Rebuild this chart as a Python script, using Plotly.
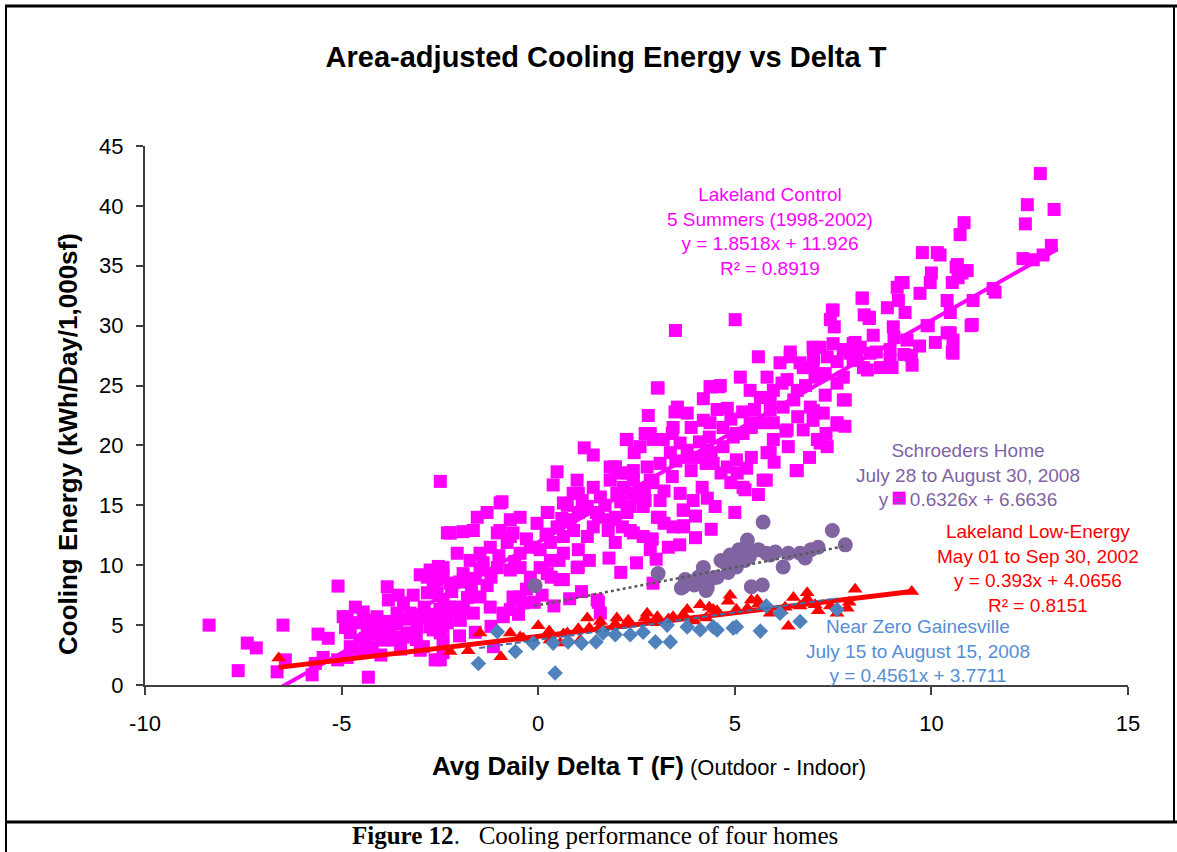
import numpy as np
import plotly.graph_objects as go

# ---------------- Data ----------------
# Lakeland Control, 5 summers (magenta squares)
ctrl_x_a = [-8.37,-7.63,-7.4,-7.17,-6.49,-6.64,-6.43,-5.6,-5.34,-5.47,-5.67,-5.75,-4.32,-4.86,-5.1,-5.09,-4.65,-4.45,-4.86,-4.6,
            -4.35,-4.1,-4.78,-4.53,-4.22,-3.97,-3.76,-3.84,-3.56,-3.81,-3.43,-3.26,-3.59,-3.08,-3.33,-3.0,-3.69,-3.43,-3.18,-3.0,
            -2.75,-2.54,-2.42,-2.67,-2.82,-2.57,-2.42,-2.92,-2.62,-2.42,-2.75,-2.49,-2.31,-2.49,-2.31,-4.96,-4.27,-4.02,-4.78,-4.53,
            -4.27,-3.0,-2.24,-2.82,-2.44,-2.24,-2.42,-2.42,-2.49]
ctrl_y_a = [5.0,1.2,3.5,3.1,5.0,1.1,2.1,4.25,3.9,2.3,1.8,0.85,0.65,2.3,2.1,8.26,6.5,6.1,5.7,5.2,
            4.85,5.7,4.35,3.75,3.2,3.75,4.6,8.2,7.5,7.1,6.85,6.0,6.0,4.85,4.35,5.7,3.75,4.0,7.5,9.2,
            9.6,9.9,9.2,8.5,7.7,7.7,7.1,3.2,2.1,2.7,4.85,4.35,5.2,17.0,12.7,5.7,5.4,4.75,3.2,2.7,
            2.9,2.9,12.7,9.0,9.0,6.5,4.85,3.75,2.1]
ctrl_x_b = [-0.92,-1.04,-0.71,-2.24,-1.91,-1.98,-1.65,-0.64,-0.38,-0.89,-1.14,-1.3,-0.3,0.1,-1.7,-1.2]
ctrl_y_b = [15.3,12.7,12.4,6.5,6.5,5.4,6.0,7.35,6.85,6.0,3.2,8.3,8.0,7.5,8.0,9.0]
ctrl_x_c = [3.03,2.8,2.24,2.72,1.17,1.4,0.48,0.38,0.99,1.96,2.26,1.83,2.16,2.42,2.0,2.52,2.85,3.03,2.67,1.58,
            1.25,1.53,1.83,2.14,2.42,2.67,2.85,2.26,0.89,0.74,1.12,1.02,0.81,0.48,0.23,-0.03,-0.46,-0.71,-0.97,-1.3,
            -1.55,-1.91,-2.24,-1.65,1.25,0.64,0.31,0.05,-0.2,-0.46,-0.79,-0.97,-0.64,-1.22,-1.48,-1.73,-2.06,-2.42,-2.57,-2.24,
            -1.91,-1.48,-1.04,-0.71,-0.46,-0.2,0.05,0.31,0.64,0.99,0.56,0.23,-0.46,-0.71,-0.89,-1.22,-1.48,-1.91,-2.24,-2.57,
            -2.67,1.5,1.58]
ctrl_y_c = [24.8,22.5,20.5,21.0,19.8,19.2,17.8,16.7,17.1,18.2,17.7,17.1,16.5,17.1,16.0,15.7,17.1,14.0,14.9,15.7,
            14.9,14.0,13.8,13.2,12.7,12.4,11.3,14.4,16.0,15.0,15.4,14.4,13.8,13.2,14.4,13.5,14.0,13.8,15.2,14.4,
            14.0,12.8,12.7,12.9,12.4,12.4,11.9,11.3,11.5,11.0,11.9,12.9,12.7,11.5,11.0,10.4,11.0,9.8,8.8,8.5,
            9.3,9.6,9.8,9.6,9.8,9.0,9.8,10.4,11.0,9.8,8.8,9.3,7.35,6.3,5.7,6.5,7.35,6.3,6.0,5.4,
            4.6,7.1,6.0]
ctrl_x_d = [6.41,6.15,5.82,5.14,4.63,4.37,4.20,4.55,4.81,5.39,5.65,5.98,6.33,6.66,6.99,7.35,7.50,7.43,7.50,7.17,
            7.76,8.01,7.60,7.76,7.60,7.25,6.99,6.92,6.59,6.23,5.90,5.72,5.39,5.21,4.96,4.70,4.37,4.20,3.79,3.54,
            3.43,3.18,2.85,2.59,2.26,1.83,2.09,2.42,2.77,3.10,3.36,3.61,3.79,4.04,4.30,4.45,4.81,5.06,5.21,5.72,
            5.82,5.98,6.33,6.59,7.10,7.35,3.61,3.94,3.69,3.10,3.43,3.69]
ctrl_y_d = [27.8,26.9,25.7,25.7,25.0,24.9,23.9,23.0,23.1,24.6,24.0,24.6,25.5,26.9,26.5,27.4,28.5,30.5,31.3,28.2,
            28.0,28.5,25.2,23.8,21.9,22.7,22.1,23.2,24.6,23.2,23.0,21.9,21.9,21.0,20.7,21.5,21.9,22.1,22.7,23.2,
            21.5,20.5,21.0,19.9,20.5,18.2,17.7,17.9,18.2,18.5,19.4,20.2,19.6,19.0,19.6,18.5,18.2,17.7,16.5,17.1,
            19.4,20.5,21.3,17.9,20.5,19.9,16.0,15.4,14.6,14.0,13.2,13.2]
ctrl_x_e = [12.77,12.44,13.12,12.39,13.05,12.84,12.33,12.59,10.83,10.73,11.57,11.06,11.04,9.77,10.15,10.22,10.66,10.91,10.68,10.0,
            9.97,9.71,9.28,9.13,9.16,9.33,8.88,9.03,9.38,8.24,8.42,8.52,8.06,10.4,10.48,10.4,10.55,10.55,9.89,9.51,
            8.95,8.70,8.37,8.01,7.76,7.76,7.81,8.19,8.44,7.93,8.27]
ctrl_y_e = [42.7,40.1,39.7,38.5,36.7,35.9,35.6,35.5,38.6,37.6,33.1,32.1,30.1,36.1,36.1,35.9,35.1,34.6,34.0,34.4,
            33.6,32.7,33.6,33.2,32.1,31.1,31.5,29.9,28.8,32.3,30.7,29.2,28.6,32.1,31.1,29.4,28.8,27.7,30.0,26.7,
            27.1,26.5,26.3,27.1,28.0,25.7,23.8,28.2,27.7,27.7,26.5]
ctrl_x_f = [10.78,10.63,10.53,9.23,11.62,9.92,11.01,10.48,10.53,9.49,8.29,8.42,9.05,8.95,3.48,4.4,4.6,6.41,6.99,6.74,
            7.04,7.53,7.48,8.24,3.49,5.01,3.05,5.6]
ctrl_y_f = [34.4,34.9,33.6,33.6,32.8,30.0,30.0,29.4,27.8,27.5,30.9,30.6,29.0,28.0,22.8,24.9,24.9,27.4,28.2,26.5,
            25.7,29.9,31.3,32.3,29.6,30.5,24.8,27.4]
ctrl_x_g = [9.18,7.6,7.17,6.56,5.8,5.26,4.65,4.17,3.69,3.31,2.92,2.34,1.96,1.78,1.02,0.53,0.33,0.64,1.02,1.3,
            0.25,0.64,1.02,1.4,1.96,2.44,2.92,3.41,3.89,4.35,5.04,5.42,5.98,6.74,7.32,6.36,5.9,5.42,5.04,4.27,
            3.89,3.41,2.92,2.72,3.1,2.34,1.96,1.48,1.53]
ctrl_y_g = [15.6,21.7,20.2,17.9,17.1,16.3,17.7,16.5,14.6,11.5,8.5,12.9,11.9,12.9,11.3,10.4,9.0,8.8,9.85,10.4,
            14.4,15.2,16.0,16.5,18.2,19.4,20.5,21.0,21.5,20.7,21.0,21.5,21.9,21.3,21.0,19.9,19.4,19.0,18.8,18.5,
            17.9,17.4,16.9,15.4,15.4,14.9,14.0,14.4,6.9]
ctrl_x_h = [-4.9,-4.4,-4.1,-3.9,-3.6,-3.3,-3.1,-2.9,-3.5,-4.0,-2.7,-2.5,-2.2,-2.0,-1.8,-1.6,-1.4,-1.0,-0.6,-0.3,
            0.2,0.6,0.9,1.4,1.7,2.1,2.4,2.7,3.2,3.5,3.8,4.1,4.4,4.7,4.9,5.2,5.5,5.9,6.2,6.5,
            6.8,7.0,7.3,7.6,8.1,8.6,9.0,9.3,9.7,10.1,3.7,4.0,4.3,4.9,5.3,5.6,6.0,6.3,6.6,7.0,
            7.3,7.8,6.9,5.0,4.5,2.9,3.2,1.1,0.8,0.4,-0.1,-0.5,-1.2,-1.6,-2.0,2.1,2.5,3.0,1.8,3.6,
            4.0,4.4]
ctrl_y_h = [4.8,3.9,4.3,5.3,5.1,5.5,3.8,6.5,3.0,2.5,5.9,6.3,7.8,8.6,7.3,8.9,10.2,10.8,10.3,12.2,
            12.6,13.9,12.9,13.2,15.0,15.3,16.0,16.4,16.2,18.7,19.0,20.3,19.4,19.9,22.2,22.8,23.0,24.0,25.2,23.8,
            25.0,27.2,26.0,27.0,27.3,27.8,26.5,27.6,28.3,28.6,13.3,14.1,15.6,16.9,18.1,15.9,18.6,21.2,22.4,22.9,
            24.2,21.6,19.0,14.4,14.9,12.2,13.5,7.8,7.2,6.6,6.9,5.9,4.9,4.4,4.1,9.4,10.2,10.5,10.6,11.7,
            12.3,13.0]

# Schroeders Home (purple circles)
schr_x = [-0.08,3.05,4.2,3.64,3.97,4.27,4.65,4.88,5.11,5.32,5.37,5.6,5.8,6.03,6.23,6.36,6.66,6.94,7.12,7.48,
          7.81,5.72,5.42,5.7,4.83,4.55,4.07,3.74,5.04,5.26,5.26,4.76,5.9,6.79,4.42,3.69,5.06,4.3]
schr_y = [8.3,9.3,9.8,8.1,8.35,7.9,10.4,10.85,11.3,12.1,10.7,11.3,11.0,11.1,9.85,11.0,11.0,11.3,11.5,12.9,
          11.7,13.6,8.2,8.35,9.4,9.0,9.0,8.8,9.85,10.4,11.4,10.2,10.85,10.6,8.9,8.2,10.2,8.1]

# Lakeland Low-Energy (red triangles)
low_x = [-6.6,-2.24,-1.78,-1.48,-0.95,-0.71,-0.46,0.0,-0.38,0.3,0.56,0.74,1.07,1.25,1.58,2.0,2.29,2.77,3.03,3.43,
         3.79,4.12,4.45,0.28,0.64,1.02,1.3,1.58,1.96,2.26,2.72,3.03,3.31,3.69,3.97,4.27,4.55,4.83,5.04,5.32,
         5.6,5.9,6.18,6.36,6.66,6.84,7.12,7.43,7.6,7.86,8.06,9.5,5.42,6.28,7.04,7.91,4.35,5.8,6.84,4.88,
         6.49,5.57]
low_y = [2.25,2.8,2.85,4.35,2.35,4.35,4.0,4.95,3.9,3.75,3.5,4.35,3.75,5.6,5.3,5.6,5.4,6.0,5.7,5.7,
         6.3,6.7,6.3,4.5,4.25,4.7,4.75,4.9,5.1,5.1,5.6,5.2,5.5,5.9,5.35,5.6,6.2,7.0,6.3,6.4,
         6.75,6.0,6.2,4.9,6.6,7.2,6.2,6.6,6.0,6.4,8.0,7.8,7.1,6.5,6.7,6.9,6.5,6.7,7.7,7.5,
         7.3,7.1]

# Near Zero Gainesville (blue diamonds)
nz_x = [-1.52,-1.04,-0.58,-0.13,0.43,0.38,0.76,1.1,1.47,1.65,1.96,2.34,2.67,2.98,3.36,3.28,3.79,4.12,4.45,4.55,
        4.96,5.04,5.65,5.8,6.15,6.66,7.6]
nz_y = [1.8,4.45,2.8,3.5,1.0,3.5,3.6,3.5,3.6,4.35,4.2,4.2,4.4,3.6,3.6,5.0,4.85,4.6,4.85,4.6,
        4.75,4.85,4.5,6.6,6.0,5.3,6.3]

# Trendline equations shown on the chart (slope, intercept) and their x spans
ctrl_fit = (1.8518, 11.926);  ctrl_span = [-8.37, 13.2]
low_fit = (0.393, 4.0656);    low_span = [-6.6, 9.5]
schr_fit = (0.6326, 6.6636);  schr_span = [-0.1, 7.8]
nz_fit = (0.4561, 3.7711);    nz_span = [-1.5, 7.6]

x_ticks = [-10, -5, 0, 5, 10, 15]
x_labels = ["-10", "-5", "0", "5", "10", "15"]
y_ticks = [0, 5, 10, 15, 20, 25, 30, 35, 40, 45]
y_labels = ["0", "5", "10", "15", "20", "25", "30", "35", "40", "45"]

ctrl_x = ctrl_x_a + ctrl_x_b + ctrl_x_c + ctrl_x_d + ctrl_x_e + ctrl_x_f + ctrl_x_g + ctrl_x_h
ctrl_y = ctrl_y_a + ctrl_y_b + ctrl_y_c + ctrl_y_d + ctrl_y_e + ctrl_y_f + ctrl_y_g + ctrl_y_h

SANS = "Liberation Sans, Arial, sans-serif"
SERIF = "Liberation Serif, Times New Roman, serif"

def fit_line(fit, span):
    xs = np.array(span, dtype=float)
    return xs, fit[0] * xs + fit[1]

fig = go.Figure()

fig.add_trace(go.Scatter(x=ctrl_x, y=ctrl_y, mode="markers", cliponaxis=False,
                         marker=dict(symbol="square", size=13, color="#FF00FF", line=dict(width=0))))
lx, ly = fit_line(ctrl_fit, ctrl_span)
fig.add_trace(go.Scatter(x=lx, y=ly, mode="lines", line=dict(color="#FF00FF", width=4)))

fig.add_trace(go.Scatter(x=schr_x, y=schr_y, mode="markers", cliponaxis=False,
                         marker=dict(symbol="circle", size=15, color="#8064A2", line=dict(width=0))))

fig.add_trace(go.Scatter(x=low_x, y=low_y, mode="markers", cliponaxis=False,
                         marker=dict(symbol="triangle-up", size=13, color="#FF0000", line=dict(width=0))))
lx, ly = fit_line(low_fit, low_span)
fig.add_trace(go.Scatter(x=lx, y=ly, mode="lines", line=dict(color="#FF0000", width=5)))

fig.add_trace(go.Scatter(x=nz_x, y=nz_y, mode="markers", cliponaxis=False,
                         marker=dict(symbol="diamond", size=12, color="#4F81BD", line=dict(width=0))))
lx, ly = fit_line(nz_fit, nz_span)
fig.add_trace(go.Scatter(x=lx, y=ly, mode="lines", line=dict(color="#3F6FA8", width=2, dash="6px,3px")))

lx, ly = fit_line(schr_fit, schr_span)
fig.add_trace(go.Scatter(x=lx, y=ly, mode="lines", line=dict(color="#5A5A5A", width=2.5, dash="dot")))

# plot area pixel geometry (for paper-referenced decorations)
L, R, T, B = 145, 1128, 146, 685
def px(xp):
    return (xp - L) / (R - L)
def py(yp):
    return (B - yp) / (B - T)

C = dict(xanchor="center", yanchor="middle", showarrow=False)
annotations = [
    dict(x=5.9, y=37.9, xref="x", yref="y", align="center",
         text="Lakeland Control<br>5 Summers (1998-2002)<br>y = 1.8518x + 11.926<br>R² = 0.8919",
         font=dict(family=SANS, size=19, color="#FF00FF"), **C),
    dict(x=10.94, y=17.5, xref="x", yref="y", align="center",
         text="Schroeders Home<br>July 28 to August 30, 2008<br>y = 0.6326x + 6.6636",
         font=dict(family=SANS, size=19, color="#7F63A5"), **C),
    dict(x=12.72, y=9.75, xref="x", yref="y", align="center",
         text="Lakeland Low-Energy<br>May 01 to Sep 30, 2002<br>y = 0.393x + 4.0656<br>R² = 0.8151",
         font=dict(family=SANS, size=19, color="#FF0000"), **C),
    dict(x=9.67, y=2.84, xref="x", yref="y", align="center",
         text="Near Zero Gainesville<br>July 15 to August 15, 2008<br>y = 0.4561x + 3.7711",
         font=dict(family=SANS, size=19, color="#558ED5"), **C),
    dict(x=px(68), y=py(444), xref="paper", yref="paper", textangle=-90,
         text="<b>Cooling Energy (kWh/Day/1,000sf)</b>",
         font=dict(family=SANS, size=26, color="black"), **C),
    dict(x=px(649), y=py(766), xref="paper", yref="paper",
         text="<b>Avg Daily Delta T (F)</b><span style='font-size:22px'> (Outdoor - Indoor)</span>",
         font=dict(family=SANS, size=26, color="black"), **C),
    dict(x=px(595), y=py(835), xref="paper", yref="paper",
         text="<b>Figure 12</b>.\u00a0\u00a0\u00a0Cooling performance of four homes",
         font=dict(family=SERIF, size=25, color="black"), **C),
]

shapes = [
    dict(type="line", xref="paper", yref="paper", x0=px(5), x1=px(1177), y0=py(6), y1=py(6),
         line=dict(color="black", width=3)),
    dict(type="line", xref="paper", yref="paper", x0=px(6), x1=px(6), y0=py(5), y1=py(852),
         line=dict(color="black", width=2)),
    dict(type="line", xref="paper", yref="paper", x0=px(1174), x1=px(1174), y0=py(5), y1=py(822),
         line=dict(color="black", width=2)),
    dict(type="line", xref="paper", yref="paper", x0=px(5), x1=px(1177), y0=py(822), y1=py(822),
         line=dict(color="black", width=3)),
]

fig.update_layout(
    width=1177, height=852,
    margin=dict(l=L, r=1177 - R, t=T, b=852 - B),
    paper_bgcolor="white", plot_bgcolor="white",
    showlegend=False,
    title=dict(text="<b>Area-adjusted Cooling Energy vs Delta T</b>",
               x=606 / 1177, y=1 - 57 / 852, xanchor="center", yanchor="middle",
               font=dict(family=SANS, size=29, color="black")),
    font=dict(family=SANS, color="black"),
    annotations=annotations,
    shapes=shapes,
)
fig.update_xaxes(range=[-10, 15], tickvals=x_ticks, ticktext=x_labels, showline=True,
                 linecolor="#404040", linewidth=2,
                 ticks="outside", ticklen=8, tickwidth=2, tickcolor="#404040",
                 showgrid=False, zeroline=False, tickfont=dict(family=SANS, size=22, color="black"),
                 ticklabelstandoff=10)
fig.update_yaxes(range=[0, 45], tickvals=y_ticks, ticktext=y_labels, showline=True,
                 linecolor="#404040", linewidth=2,
                 ticks="outside", ticklen=7, tickwidth=2, tickcolor="#404040",
                 showgrid=False, zeroline=False, tickfont=dict(family=SANS, size=22, color="black"),
                 ticklabelstandoff=8)

fig.write_html("out.html", config={"displayModeBar": False},
               post_script="document.body.style.margin='0px';")
